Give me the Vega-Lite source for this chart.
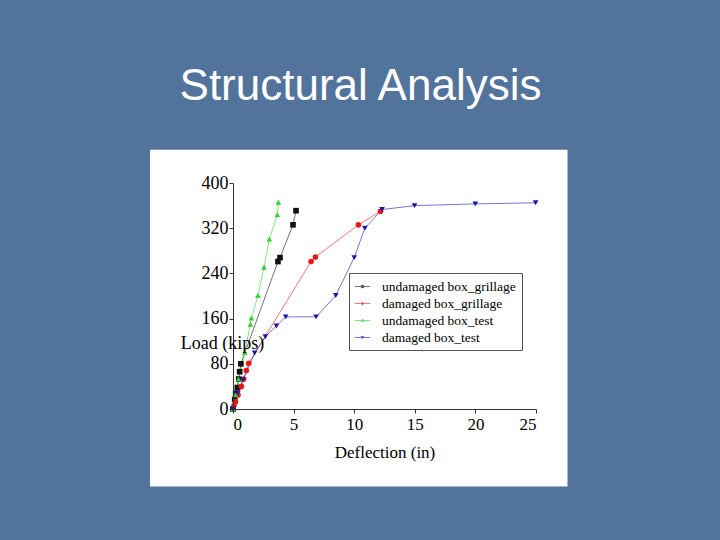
{
  "$schema": "https://vega.github.io/schema/vega-lite/v6.json",
  "width": 303,
  "height": 226,
  "autosize": {"type": "none"},
  "padding": {"left": 233, "top": 183, "right": 184, "bottom": 131},
  "background": "#52749c",
  "title": {
    "text": "Structural Analysis",
    "color": "white",
    "font": "Liberation Sans",
    "fontSize": 44,
    "fontWeight": "normal",
    "anchor": "middle",
    "dx": -24,
    "baseline": "alphabetic",
    "offset": 6
  },
  "config": {
    "view": {"stroke": null},
    "axis": {
      "labelFont": "Liberation Serif",
      "titleFont": "Liberation Serif",
      "labelColor": "black",
      "titleColor": "black",
      "domainColor": "#333333",
      "tickColor": "#333333",
      "grid": false,
      "titleFontWeight": "normal"
    },
    "legend": {
      "labelFont": "Liberation Serif",
      "labelColor": "black"
    }
  },
  "datasets": {
    "box": [{"x0": -6.85, "x1": 27.6, "y0": -137, "y1": 459}],
    "curves": [
      {"series": "undamaged box_grillage", "deflection": 0.0, "load": 0},
      {"series": "undamaged box_grillage", "deflection": 0.14, "load": 17},
      {"series": "undamaged box_grillage", "deflection": 0.22, "load": 28},
      {"series": "undamaged box_grillage", "deflection": 0.36, "load": 38},
      {"series": "undamaged box_grillage", "deflection": 0.47, "load": 53},
      {"series": "undamaged box_grillage", "deflection": 0.55, "load": 66},
      {"series": "undamaged box_grillage", "deflection": 0.65, "load": 80},
      {"series": "undamaged box_grillage", "deflection": 3.71, "load": 261},
      {"series": "undamaged box_grillage", "deflection": 3.88, "load": 268},
      {"series": "undamaged box_grillage", "deflection": 4.95, "load": 326},
      {"series": "undamaged box_grillage", "deflection": 5.2, "load": 351},
      {"series": "damaged box_grillage", "deflection": 0.08, "load": 6},
      {"series": "damaged box_grillage", "deflection": 0.2, "load": 13},
      {"series": "damaged box_grillage", "deflection": 0.41, "load": 25},
      {"series": "damaged box_grillage", "deflection": 0.69, "load": 40},
      {"series": "damaged box_grillage", "deflection": 0.88, "load": 53},
      {"series": "damaged box_grillage", "deflection": 1.1, "load": 68},
      {"series": "damaged box_grillage", "deflection": 1.3, "load": 81},
      {"series": "damaged box_grillage", "deflection": 6.44, "load": 261},
      {"series": "damaged box_grillage", "deflection": 6.8, "load": 269},
      {"series": "damaged box_grillage", "deflection": 10.35, "load": 326},
      {"series": "damaged box_grillage", "deflection": 12.17, "load": 350},
      {"series": "undamaged box_test", "deflection": 0.0, "load": 0},
      {"series": "undamaged box_test", "deflection": 0.2, "load": 25},
      {"series": "undamaged box_test", "deflection": 0.45, "load": 53},
      {"series": "undamaged box_test", "deflection": 0.97, "load": 100},
      {"series": "undamaged box_test", "deflection": 1.43, "load": 150},
      {"series": "undamaged box_test", "deflection": 1.52, "load": 161},
      {"series": "undamaged box_test", "deflection": 2.06, "load": 201},
      {"series": "undamaged box_test", "deflection": 2.56, "load": 251},
      {"series": "undamaged box_test", "deflection": 3.0, "load": 301},
      {"series": "undamaged box_test", "deflection": 3.66, "load": 344},
      {"series": "undamaged box_test", "deflection": 3.74, "load": 366},
      {"series": "damaged box_test", "deflection": 0.0, "load": 0},
      {"series": "damaged box_test", "deflection": 0.4, "load": 28},
      {"series": "damaged box_test", "deflection": 0.83, "load": 52},
      {"series": "damaged box_test", "deflection": 1.79, "load": 99},
      {"series": "damaged box_test", "deflection": 2.67, "load": 128},
      {"series": "damaged box_test", "deflection": 3.58, "load": 147},
      {"series": "damaged box_test", "deflection": 4.35, "load": 163},
      {"series": "damaged box_test", "deflection": 6.86, "load": 163},
      {"series": "damaged box_test", "deflection": 8.48, "load": 201},
      {"series": "damaged box_test", "deflection": 10.0, "load": 268},
      {"series": "damaged box_test", "deflection": 10.88, "load": 320},
      {"series": "damaged box_test", "deflection": 12.3, "load": 353},
      {"series": "damaged box_test", "deflection": 14.98, "load": 360},
      {"series": "damaged box_test", "deflection": 19.99, "load": 363},
      {"series": "damaged box_test", "deflection": 24.97, "load": 365}
    ]
  },
  "layer": [
    {
      "data": {"name": "box"},
      "mark": {"type": "rect", "fill": "white", "clip": false},
      "encoding": {
        "x": {
          "field": "x0",
          "type": "quantitative",
          "scale": {"domain": [0, 25], "nice": false, "zero": false},
          "axis": {
            "title": "Deflection (in)",
            "values": [0, 2.5, 5, 7.5, 10, 12.5, 15, 17.5, 20, 22.5, 25],
            "labelExpr": "datum.value % 5 == 0 ? datum.label : ''",
            "tickSize": 4,
            "labelFontSize": 17,
            "labelPadding": 3,
            "titleFontSize": 17,
            "titlePadding": 12,
            "zindex": 2
          }
        },
        "x2": {"field": "x1"},
        "y": {
          "field": "y0",
          "type": "quantitative",
          "scale": {"domain": [0, 400], "nice": false, "zero": false},
          "axis": {
            "title": "Load (kips)",
            "values": [0, 40, 80, 120, 160, 200, 240, 280, 320, 360, 400],
            "labelExpr": "datum.value % 80 == 0 ? datum.label : ''",
            "tickSize": 4,
            "labelFontSize": 18,
            "labelPadding": 1,
            "titleFontSize": 18,
            "titleAngle": 0,
            "titleX": -11,
            "titleY": 160,
            "titleAlign": "center",
            "titleBaseline": "middle",
            "zindex": 2
          }
        },
        "y2": {"field": "y1"}
      }
    },
    {
      "data": {"name": "curves"},
      "mark": {"type": "line", "strokeWidth": 0.8, "opacity": 0.75},
      "encoding": {
        "x": {"field": "deflection", "type": "quantitative"},
        "y": {"field": "load", "type": "quantitative"},
        "color": {
          "field": "series",
          "type": "nominal",
          "scale": {
            "domain": ["undamaged box_grillage", "damaged box_grillage", "undamaged box_test", "damaged box_test"],
            "range": ["#111111", "#e81818", "#30d030", "#1818a8"]
          },
          "legend": {
            "title": null,
            "orient": "none",
            "legendX": 116,
            "legendY": 90,
            "padding": 6,
            "strokeColor": "#555555",
            "fillColor": "white",
            "labelFontSize": 13.5,
            "rowPadding": 3,
            "symbolSize": 196,
            "symbolStrokeWidth": 0.8,
            "labelOffset": 12
          }
        },
        "shape": {
          "field": "series",
          "type": "nominal",
          "scale": {
            "domain": ["undamaged box_grillage", "damaged box_grillage", "undamaged box_test", "damaged box_test"],
            "range": [
              "M-1.1,0H-0.2M0.2,0H1.1M-0.17,-0.17H0.17V0.17H-0.17Z",
              "M-1.1,0H-0.22M0.22,0H1.1M-0.17,0A0.17,0.17,0,1,0,0.17,0A0.17,0.17,0,1,0,-0.17,0Z",
              "M-1.1,0H-0.22M0.22,0H1.1M0,-0.2L0.2,0.15H-0.2Z",
              "M-1.1,0H-0.22M0.22,0H1.1M0,0.2L0.2,-0.15H-0.2Z"
            ]
          }
        },
        "order": {"field": "deflection", "type": "quantitative"}
      }
    },
    {
      "data": {"name": "curves"},
      "transform": [{"filter": "datum.series == 'undamaged box_grillage'"}],
      "mark": {"type": "point", "filled": true, "size": 32, "opacity": 1, "shape": "square"},
      "encoding": {
        "x": {"field": "deflection", "type": "quantitative"},
        "y": {"field": "load", "type": "quantitative"},
        "color": {"field": "series", "type": "nominal"}
      }
    },
    {
      "data": {"name": "curves"},
      "transform": [{"filter": "datum.series == 'damaged box_grillage'"}],
      "mark": {"type": "point", "filled": true, "size": 32, "opacity": 1, "shape": "circle"},
      "encoding": {
        "x": {"field": "deflection", "type": "quantitative"},
        "y": {"field": "load", "type": "quantitative"},
        "color": {"field": "series", "type": "nominal"}
      }
    },
    {
      "data": {"name": "curves"},
      "transform": [{"filter": "datum.series == 'undamaged box_test'"}],
      "mark": {"type": "point", "filled": true, "size": 32, "opacity": 1, "shape": "triangle-up"},
      "encoding": {
        "x": {"field": "deflection", "type": "quantitative"},
        "y": {"field": "load", "type": "quantitative"},
        "color": {"field": "series", "type": "nominal"}
      }
    },
    {
      "data": {"name": "curves"},
      "transform": [{"filter": "datum.series == 'damaged box_test'"}],
      "mark": {"type": "point", "filled": true, "size": 32, "opacity": 1, "shape": "triangle-down"},
      "encoding": {
        "x": {"field": "deflection", "type": "quantitative"},
        "y": {"field": "load", "type": "quantitative"},
        "color": {"field": "series", "type": "nominal"}
      }
    }
  ]
}
